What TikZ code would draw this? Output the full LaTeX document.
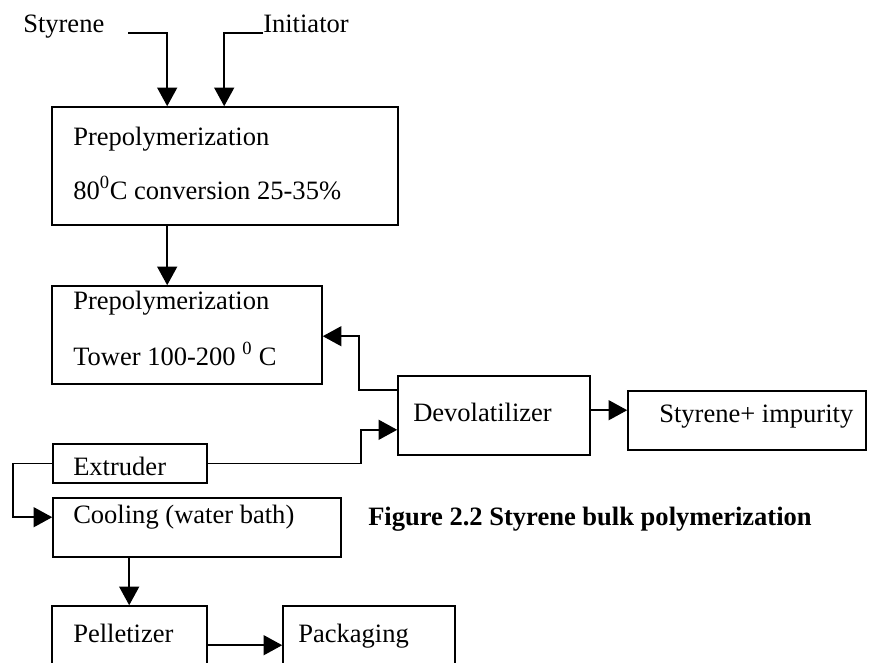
\documentclass[tikz,border=0pt]{standalone}
\usepackage{fontspec}
\setmainfont{Liberation Serif}
\usetikzlibrary{arrows.meta,fit,calc}
\tikzset{
  box/.style={draw, line width=1.2pt, inner sep=0pt, fill=none},
  lbl/.style={anchor=base west, inner sep=0pt, font=\fontsize{19.9}{24}\selectfont},
  captiontext/.style={anchor=base west, inner sep=0pt, font=\fontsize{19.9}{24}\selectfont\bfseries},
  arr/.style={line width=1.2pt, -{Triangle[length=14pt,width=15pt]}},
  ln/.style={line width=1.2pt}
}
\begin{document}
\begin{tikzpicture}[x=0.75pt,y=-0.75pt]
\useasboundingbox (0,0) rectangle (869,662);
\clip (0,0) rectangle (869,662);
\fill[white] (0,0) rectangle (869,662);
% boxes
\node[box, fit={(52,107) (398,225)}] (b1) {};
\node[box, fit={(52,286) (322,384)}] (b2) {};
\node[box, fit={(398,376) (590,455)}] (dev) {};
\node[box, fit={(628,391) (866,450)}] (imp) {};
\node[box, fit={(53,444) (207,483)}] (ext) {};
\node[box, fit={(53,498) (341,557)}] (cool) {};
\node[box, fit={(52,606) (207,685)}] (pel) {};
\node[box, fit={(283,606) (455,685)}] (pack) {};
% texts
\node[lbl] (tsty) at (23,32) {Styrene};
\node[lbl] (tini) at (263,32) {Initiator};
\node[lbl] (t1a) at (73,145) {Prepolymerization};
\node[lbl] (t1b) at (73,199) {80\textsuperscript{0}C conversion 25-35\%};
\node[lbl] (t2a) at (73,309) {Prepolymerization};
\node[lbl] (t2b) at (73,365) {Tower 100-200 \textsuperscript{0} C};
\node[lbl] (tdev) at (413,421) {Devolatilizer};
\node[lbl] (timp) at (659,422) {Styrene+ impurity};
\node[lbl] (text) at (73,475) {Extruder};
\node[lbl] (tcool) at (73,523) {Cooling (water bath)};
\node[captiontext] (tcap) at (368,525) {Figure 2.2 Styrene bulk polymerization};
\node[lbl] (tpel) at (73,642) {Pelletizer};
\node[lbl] (tpack) at (298,642) {Packaging};
% connectors
\coordinate (s0) at (128,33);
\coordinate (i0) at (263,33);
\draw[arr] (s0) -| ($(b1.north west)+(116,0)$);
\draw[arr] (i0) -| ($(b1.north west)+(173,0)$);
\draw[arr] ($(b1.south west)+(116,0)$) -- ($(b2.north west)+(116,0)$);
\draw[arr] ($(dev.north west)+(0,15)$) -- ++(-38,0) |- ($(b2.north east)+(0,51)$);
\draw[arr] (ext.east) -- ++(153,0) |- ($(dev.south west)+(0,-26)$);
\draw[arr] (ext.west) -- ++(-39,0) |- ($(cool.north west)+(0,20)$);
\draw[arr] ($(dev.north east)+(0,35)$) -- ($(imp.north west)+(0,20)$);
\draw[arr] ($(cool.south west)+(77,0)$) -- ($(pel.north west)+(78,0)$);
\draw[arr] ($(pel.north east)+(0,40)$) -- ($(pack.north west)+(0,40)$);
\end{tikzpicture}
\end{document}
